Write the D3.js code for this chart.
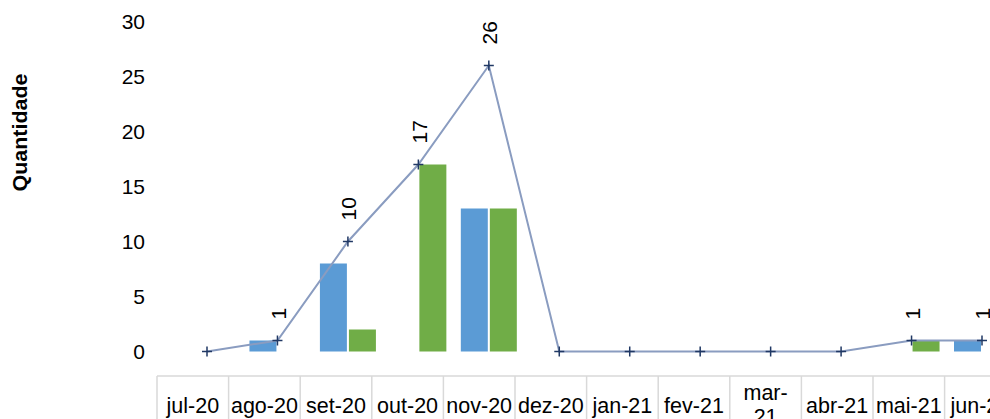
<!DOCTYPE html>
<html>
<head>
<meta charset="utf-8">
<script src="https://cdn.jsdelivr.net/npm/d3@7"></script>
<style>
  html, body { margin: 0; padding: 0; background: #ffffff; }
  svg { display: block; }
</style>
</head>
<body>
<div id="chart"></div>
<script>
// ---- data ----
const categories = ["jul-20","ago-20","set-20","out-20","nov-20","dez-20","jan-21","fev-21","mar-21","abr-21","mai-21","jun-21"];
const tickLabels = ["jul-20","ago-20","set-20","out-20","nov-20","dez-20","jan-21","fev-21","mar-\n21","abr-21","mai-21","jun-21"];
const seriesBlue  = [0, 1, 8, 0, 13, 0, 0, 0, 0, 0, 0, 1];
const seriesGreen = [0, 0, 2, 17, 13, 0, 0, 0, 0, 0, 1, 0];
const seriesTotal = [0, 1, 10, 17, 26, 0, 0, 0, 0, 0, 1, 1];
const yTicks = [0, 5, 10, 15, 20, 25, 30];
const yTitle = "Quantidade";

// ---- layout ----
const W = 990, H = 419;
const font = "'Liberation Sans', Arial, sans-serif";
const svg = d3.select("#chart").append("svg").attr("width", W).attr("height", H);

const y = d3.scaleLinear().domain([0, 30]).range([351.5, 21.5]);
const xPt = d3.scalePoint().domain(categories).range([207, 982]);
const xBox = d3.scaleBand().domain(categories).range([157, 157 + 12 * 71.6]);
const xSub = d3.scaleBand().domain(["blue", "green"]).range([-28, 28]).paddingInner(0.07);

// y axis labels
const yAxis = d3.axisLeft(y).tickValues(yTicks).tickSize(0).tickPadding(0);
const gy = svg.append("g").attr("transform", "translate(145,0)").call(yAxis);
gy.select(".domain").remove();
gy.selectAll("text").attr("font-family", font).attr("font-size", 21).attr("fill", "#000");

// y title
svg.append("text")
  .attr("transform", "translate(26.5,132.5) rotate(-90)")
  .attr("text-anchor", "middle")
  .attr("font-family", font).attr("font-weight", "bold").attr("font-size", 20)
  .attr("textLength", 118).attr("lengthAdjust", "spacingAndGlyphs")
  .attr("fill", "#000")
  .text(yTitle);

// category table
const gt = svg.append("g");
gt.append("line")
  .attr("x1", xBox.range()[0]).attr("x2", xBox.range()[1])
  .attr("y1", 376).attr("y2", 376)
  .attr("stroke", "#d9d9d9").attr("stroke-width", 1.5);
gt.selectAll("line.sep").data(categories.concat(["__end"])).join("line")
  .attr("class", "sep")
  .attr("x1", (d, i) => xBox.range()[0] + i * xBox.step())
  .attr("x2", (d, i) => xBox.range()[0] + i * xBox.step())
  .attr("y1", 376).attr("y2", H)
  .attr("stroke", "#d9d9d9").attr("stroke-width", 1.5);
const lbl = gt.selectAll("text.cat").data(categories).join("text")
  .attr("class", "cat")
  .attr("x", d => xBox(d) + xBox.bandwidth() / 2)
  .attr("text-anchor", "middle")
  .attr("font-family", font).attr("font-size", 21.5).attr("fill", "#000");
lbl.each(function(d, i) {
  const lines = tickLabels[i].split("\n");
  const t = d3.select(this);
  const cx = xBox(d) + xBox.bandwidth() / 2;
  const base = lines.length > 1 ? 400 : 413;
  lines.forEach((s, k) => {
    t.append("tspan").attr("x", cx).attr("y", base + k * 24).text(s);
  });
});

// bars
const bars = svg.append("g");
bars.selectAll("rect.blue").data(categories).join("rect")
  .attr("class", "blue")
  .attr("x", d => xPt(d) + xSub("blue"))
  .attr("width", xSub.bandwidth())
  .attr("y", (d, i) => y(seriesBlue[i]))
  .attr("height", (d, i) => y(0) - y(seriesBlue[i]))
  .attr("fill", "#5b9bd5");
bars.selectAll("rect.green").data(categories).join("rect")
  .attr("class", "green")
  .attr("x", d => xPt(d) + xSub("green"))
  .attr("width", xSub.bandwidth())
  .attr("y", (d, i) => y(seriesGreen[i]))
  .attr("height", (d, i) => y(0) - y(seriesGreen[i]))
  .attr("fill", "#70ad47");

// line
const line = d3.line().x((d, i) => xPt(categories[i])).y(d => y(d));
svg.append("path").datum(seriesTotal)
  .attr("d", line).attr("fill", "none")
  .attr("stroke", "#8a9cc0").attr("stroke-width", 2);

// markers
svg.append("g").selectAll("path").data(seriesTotal).join("path")
  .attr("transform", (d, i) => `translate(${xPt(categories[i])},${y(d)})`)
  .attr("d", "M-5,0H5M0,-5V5")
  .attr("stroke", "#203864").attr("stroke-width", 1.5).attr("fill", "none");

// data labels
svg.append("g").selectAll("text").data(seriesTotal.map((v, i) => ({v, c: categories[i]})).filter(d => d.v > 0)).join("text")
  .attr("transform", d => `translate(${xPt(d.c) + 1},${y(d.v) - 21}) rotate(-90)`)
  .attr("dy", "0.35em")
  .attr("text-anchor", "start")
  .attr("font-family", font).attr("font-size", 21).attr("fill", "#000")
  .text(d => d.v);
</script>
</body>
</html>
